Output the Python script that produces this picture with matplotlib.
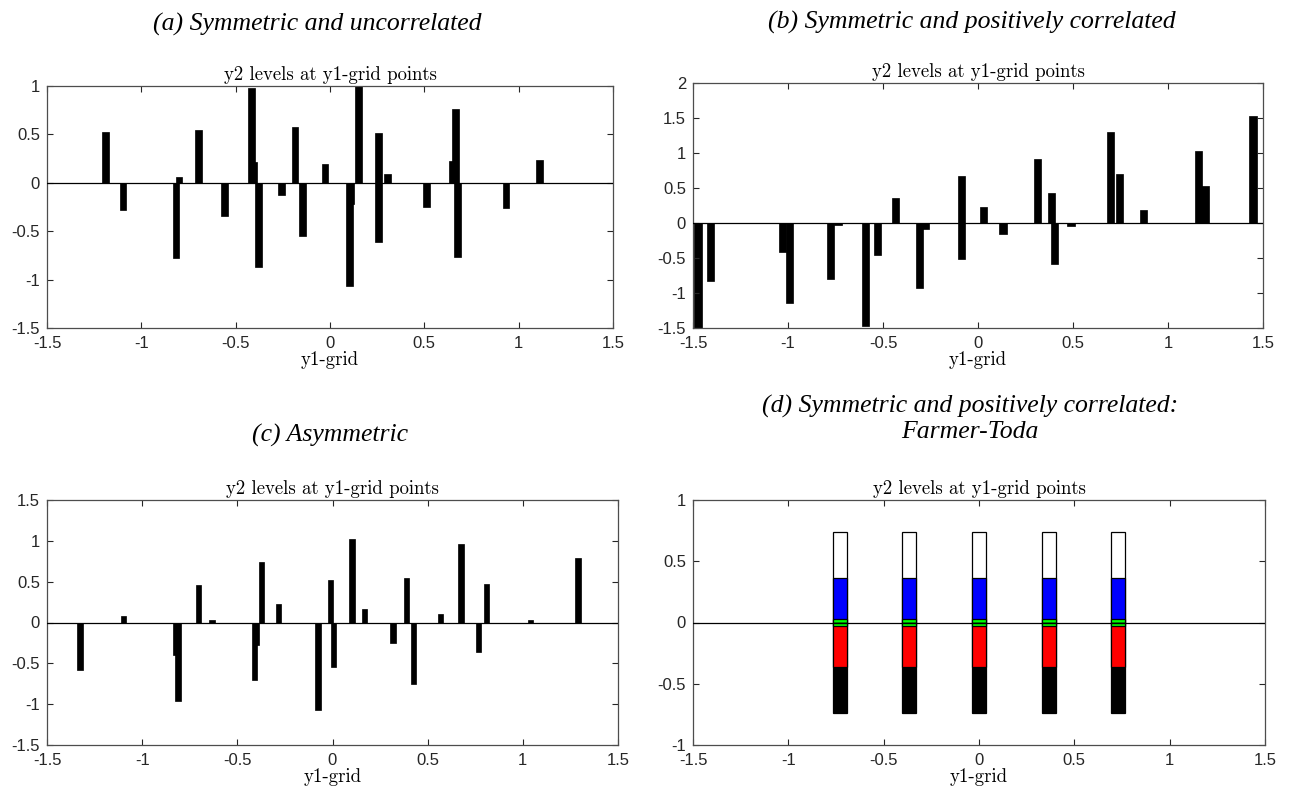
import matplotlib
matplotlib.use("Agg")
import matplotlib.pyplot as plt

plt.rcParams["axes.unicode_minus"] = False

# (a) symmetric, uncorrelated: bar positions on the y1 grid and y2 levels
A_X = [-1.19, -1.097, -0.816, -0.80, -0.699, -0.558, -0.416, -0.407, -0.381,
       -0.258, -0.186, -0.145, -0.027, 0.103, 0.108, 0.149, 0.258, 0.255,
       0.306, 0.513, 0.648, 0.667, 0.676, 0.933, 1.11]
A_Y = [0.52, -0.285, -0.774, 0.06, 0.547, -0.343, 0.98, 0.215, -0.873,
       -0.127, 0.575, -0.548, 0.19, -1.07, -0.22, 1.02, 0.51, -0.61,
       0.088, -0.25, 0.229, 0.76, -0.764, -0.264, 0.239]

# (b) symmetric, positively correlated
B_X = [-1.474, -1.409, -1.03, -0.993, -0.775, -0.737, -0.593, -0.528, -0.435,
       -0.307, -0.275, -0.088, -0.088, 0.03, 0.132, 0.314, 0.388, 0.402,
       0.489, 0.696, 0.746, 0.87, 1.16, 1.195, 1.447]
B_Y = [-1.55, -0.824, -0.41, -1.143, -0.796, -0.033, -1.477, -0.453, 0.362,
       -0.924, -0.086, 0.676, -0.515, 0.233, -0.162, 0.914, 0.429, -0.586,
       -0.038, 1.294, 0.704, 0.19, 1.033, 0.533, 1.533]

# (c) asymmetric
C_X = [-1.327, -1.097, -0.826, -0.811, -0.705, -0.633, -0.409, -0.398, -0.374,
       -0.283, -0.076, -0.011, 0.004, 0.103, 0.169, 0.318, 0.388, 0.427,
       0.567, 0.675, 0.767, 0.809, 1.042, 1.29]
C_Y = [-0.58, 0.08, -0.398, -0.957, 0.459, 0.03, -0.70, -0.28, 0.737,
       0.222, -1.075, 0.52, -0.545, 1.018, 0.161, -0.255, 0.545, -0.757,
       0.104, 0.965, -0.365, 0.471, 0.03, 0.786]

# (d) Farmer-Toda: same stacked y2 levels at each y1 grid point
D_X = [-0.73, -0.365, 0.0, 0.365, 0.73]
D_LEVELS = [0.735, 0.367, 0.03, -0.735, -0.367, -0.03]
D_COLORS = ["white", "#0000ff", "#00ff00", "black", "#ff0000", "#00ff00"]

W, H = 1291, 796
AX_COLOR = "#4d4d4d"
TICK_FONT = "Liberation Sans"
SERIF = "cmr10"


def axes_at(fig, left, top, right, bottom):
    return fig.add_axes([left / W, 1 - bottom / H, (right - left) / W, (bottom - top) / H])


def style(ax, ylim, yticks):
    ax.set_xlim(-1.5, 1.5)
    ax.set_ylim(*ylim)
    xt = [-1.5, -1, -0.5, 0, 0.5, 1, 1.5]
    ax.set_xticks(xt)
    ax.set_xticklabels([f"{v:g}" for v in xt], fontfamily=TICK_FONT, fontsize=12)
    ax.set_yticks(yticks)
    ax.set_yticklabels([f"{v:g}" for v in yticks], fontfamily=TICK_FONT, fontsize=12)
    ax.tick_params(direction="in", top=True, right=True, length=4, width=0.8,
                   colors="#262626")
    ax.tick_params(axis="x", pad=6)
    ax.tick_params(axis="y", pad=5)
    for s in ax.spines.values():
        s.set_color(AX_COLOR)
        s.set_linewidth(0.9)
    ax.axhline(0, color="black", lw=0.9, zorder=3)
    ax.set_title("y2 levels at y1-grid points", fontfamily=SERIF, fontsize=13.5, pad=4)
    ax.set_xlabel("y1-grid", fontfamily=SERIF, fontsize=13.5, labelpad=0)


fig = plt.figure(figsize=(W / 100, H / 100), dpi=100)

ax_a = axes_at(fig, 47, 86, 613, 328)
ax_a.bar(A_X, A_Y, width=0.036, color="black", edgecolor="black", linewidth=0.5)
style(ax_a, (-1.5, 1), [-1.5, -1, -0.5, 0, 0.5, 1])

ax_b = axes_at(fig, 693, 83, 1263, 328)
ax_b.bar(B_X, B_Y, width=0.038, color="black", edgecolor="black", linewidth=0.5)
style(ax_b, (-1.5, 2), [-1.5, -1, -0.5, 0, 0.5, 1, 1.5, 2])

ax_c = axes_at(fig, 47, 500, 618, 745)
ax_c.bar(C_X, C_Y, width=0.028, color="black", edgecolor="black", linewidth=0.5)
style(ax_c, (-1.5, 1.5), [-1.5, -1, -0.5, 0, 0.5, 1, 1.5])

ax_d = axes_at(fig, 693, 500, 1265, 745)
for level, col in zip(D_LEVELS, D_COLORS):
    ax_d.bar(D_X, [level] * len(D_X), width=0.074, color=col,
             edgecolor="black", linewidth=0.9)
style(ax_d, (-1, 1), [-1, -0.5, 0, 0.5, 1])

PANEL_FONT = dict(fontfamily="Liberation Serif", fontstyle="italic", fontsize=18.5,
                  ha="center", va="center")
fig.text(317 / W, 1 - 24 / H, "(a) Symmetric and uncorrelated", **PANEL_FONT)
fig.text(972 / W, 1 - 22 / H, "(b) Symmetric and positively correlated", **PANEL_FONT)
fig.text(330 / W, 1 - 435 / H, "(c) Asymmetric", **PANEL_FONT)
fig.text(970 / W, 1 - 419 / H, "(d) Symmetric and positively correlated:\nFarmer-Toda",
         linespacing=1.2, **PANEL_FONT)

fig.savefig("out.png", dpi=100)
